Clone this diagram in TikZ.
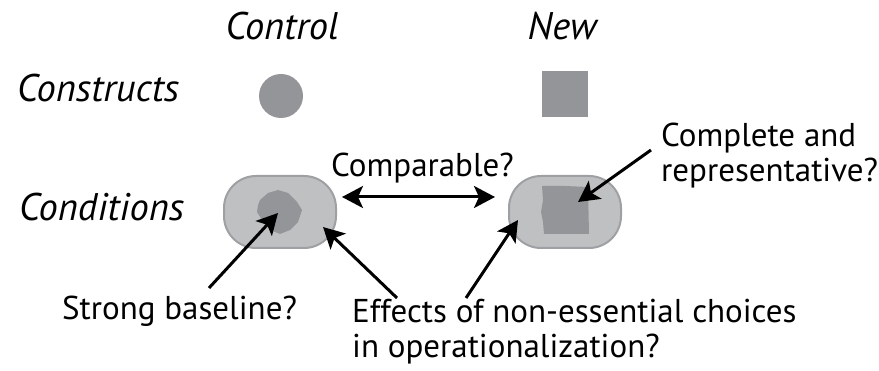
\documentclass[tikz,border=0pt]{standalone}
\usepackage{fontspec}
\setmainfont{PT Sans}
\usetikzlibrary{arrows.meta}

\definecolor{capfill}{RGB}{190,192,194}
\definecolor{capedge}{RGB}{158,160,163}
\definecolor{shapefill}{RGB}{147,149,152}

\begin{document}
\begin{tikzpicture}[
        x=1pt, y=-1pt,
        >={Stealth[length=21pt,width=22pt,inset=5pt]},
        txt/.style={
            inner sep=0pt,
            font=\fontsize{33}{35}\selectfont
        },
        head/.style={
            txt,
            anchor=base,
            font=\fontsize{38.5}{40}\selectfont\itshape
        },
        rowname/.style={
            txt,
            anchor=base west,
            font=\fontsize{38.5}{40}\selectfont\itshape
        },
        capsule/.style={
            rectangle,
            draw=capedge,
            fill=capfill,
            line width=2pt,
            rounded corners=32pt,
            minimum width=112pt,
            minimum height=72pt
        },
        arrow/.style={
            ->,
            line width=3pt
        }
    ]
    \useasboundingbox (0,0) rectangle (879,371);

    % Column and row headings
    \node[head] (control) at (282,40) {Control};
    \node[head] (new) at (562,40) {New};
    \node[rowname] (constructs) at (17,102) {Constructs};
    \node[rowname] (conditions) at (19,221) {Conditions};

    % Constructs
    \node[circle, fill=shapefill, minimum size=44pt, inner sep=0pt] (cctl) at (281,96) {};
    \node[rectangle, fill=shapefill, minimum size=46pt, inner sep=0pt] (cnew) at (564.5,94) {};

    % Conditions
    \node[capsule] (condctl) at (280,212) {};
    \node[capsule] (condnew) at (565,212) {};
    \fill[shapefill] (260,200) -- (268,193) -- (278,190) -- (288,193) -- (297,202)
        -- (302,210) -- (298,222) -- (290,230) -- (280,234) -- (270,230)
        -- (262,220) -- (257,212) -- (258,205) -- cycle;
    \fill[shapefill] (542,186) -- (565,186) -- (588,187) -- (589,234) -- (544,234)
        -- (543,222) -- (541,212) -- (543,200) -- cycle;
    \coordinate (blobc) at (278,213);
    \coordinate (sqc) at (578,202);

    % Question labels
    \node[txt, anchor=base west] (comparable) at (331,177) {Comparable?};
    \node[txt, anchor=base west, align=left] (complete) at (661,182) {Complete and\\representative?};
    \node[txt, anchor=base west] (strong) at (62,320) {Strong baseline?};
    \node[txt, anchor=base west, align=left] (effects) at (352,358) {Effects of non-essential choices\\in operationalization?};

    % Arrow ends
    \coordinate (cmpl) at (342,197);
    \coordinate (cmpr) at (495,197);
    \coordinate (complt) at (651,150);
    \coordinate (strongt) at (209,288);
    \coordinate (effl) at (397,298);
    \coordinate (effr) at (466,298);
    \coordinate (effltip) at (323,227);
    \coordinate (effrtip) at (518,220);

    % Connections
    \draw[arrow, <->] (cmpl) -- (cmpr);
    \draw[arrow] (complt) -- (sqc);
    \draw[arrow] (strongt) -- (blobc);
    \draw[arrow] (effl) -- (effltip);
    \draw[arrow] (effr) -- (effrtip);

\end{tikzpicture}
\end{document}
